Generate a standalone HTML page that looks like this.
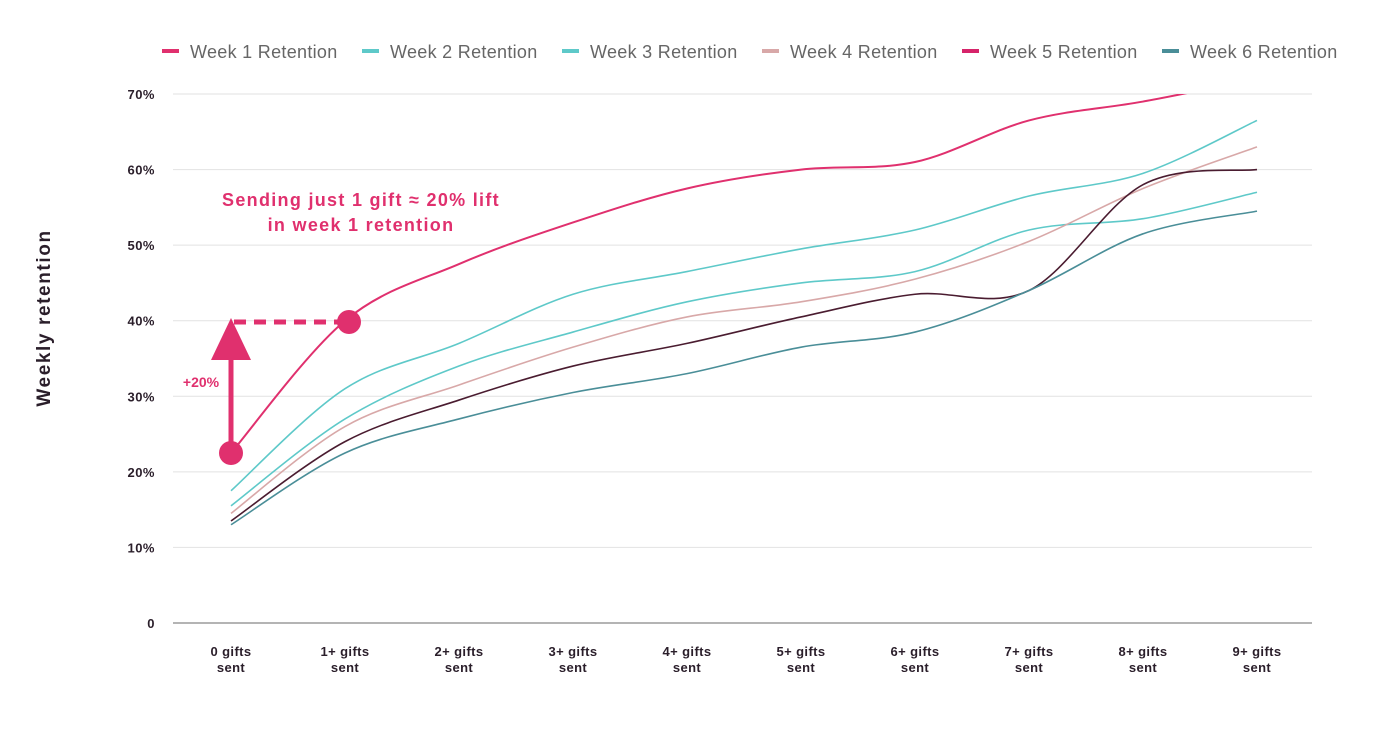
<!DOCTYPE html>
<html><head><meta charset="utf-8"><style>
body{margin:0;background:#fff;width:1400px;height:734px;overflow:hidden;font-family:"Liberation Sans",sans-serif}
</style></head><body>
<svg id="c" width="1400" height="734">
<defs><clipPath id="pc"><rect x="170" y="94" width="1150" height="540"/></clipPath></defs>
<g id="grid"></g><g id="lines" clip-path="url(#pc)"></g><g id="xl"></g><g id="yl"></g><g id="lg"></g>
<text x="50" y="318" transform="rotate(-90 50 318)" text-anchor="middle" font-size="19" font-weight="bold" letter-spacing="1.6" fill="#2a1e2a">Weekly retention</text>
<g>
<text x="361" y="206" text-anchor="middle" font-size="18" font-weight="bold" letter-spacing="1.3" fill="#e0306e">Sending just 1 gift ≈ 20% lift</text>
<text x="361" y="231" text-anchor="middle" font-size="18" font-weight="bold" letter-spacing="1.3" fill="#e0306e">in week 1 retention</text>
<line x1="231" y1="453" x2="231" y2="355" stroke="#e0306e" stroke-width="5"/>
<polygon points="231,318 211,360 251,360" fill="#e0306e"/>
<line x1="234" y1="322" x2="345" y2="322" stroke="#e0306e" stroke-width="5" stroke-dasharray="12,8"/>
<circle cx="231" cy="453" r="12" fill="#e0306e"/>
<circle cx="349" cy="322" r="12" fill="#e0306e"/>
<text x="201" y="387" text-anchor="middle" font-size="14" font-weight="bold" fill="#e0306e">+20%</text>
</g>
</svg>
<script>
const categories=["0 gifts","1+ gifts","2+ gifts","3+ gifts","4+ gifts","5+ gifts","6+ gifts","7+ gifts","8+ gifts","9+ gifts"];
const yTicks=[0,10,20,30,40,50,60,70];
const seriesNames=["Week 1 Retention","Week 2 Retention","Week 3 Retention","Week 4 Retention","Week 5 Retention","Week 6 Retention"];
const week1=[22.5,40,47.5,53,57.5,60,61,66.5,69,72];
const week2=[17.5,31,37,43.5,46.5,49.5,52,56.5,59.5,66.5];
const week3=[15.5,27,34,38.5,42.5,45,46.5,52,53.5,57];
const week4=[14.5,26,31.5,36.5,40.5,42.5,45.5,50.5,57.5,63];
const week5=[13.5,24,29.5,34,37,40.5,43.5,44,58,60];
const week6=[13,22.5,27,30.5,33,36.5,38.5,44,51.5,54.5];
const series=[week1,week2,week3,week4,week5,week6];
const lineColors=["#e0306e","#5ec9c9","#5ec9c9","#d8a8a8","#4a1c30","#4a8e98"];
const legColors=["#e0306e","#5ec9c9","#5ec9c9","#d8a8a8","#d6246a","#4a8e98"];
const NS="http://www.w3.org/2000/svg";
const X=i=>231+i*114, Y=v=>623-v*(529/70);
function mk(t,a,p){const e=document.createElementNS(NS,t);for(const k in a)e.setAttribute(k,a[k]);p.appendChild(e);return e;}
const g=document.getElementById('grid'),yl=document.getElementById('yl'),xl=document.getElementById('xl');
yTicks.forEach(v=>{
 const l=mk('line',{x1:173,x2:1312,y1:Y(v),y2:Y(v),stroke:v==0?'#888':'#e2e2e2','stroke-width':v==0?1.2:1},g);
 
 
 const t=mk('text',{x:155,y:Y(v)+5,'text-anchor':'end','font-size':13,'font-weight':'bold',fill:'#2a1e2a','letter-spacing':0.5},yl);
 t.textContent=v==0?'0':v+'%';
 
 
});
categories.forEach((c,i)=>{
 const t=mk('text',{x:X(i),y:656,'text-anchor':'middle','font-size':13,'font-weight':'bold',fill:'#2a1e2a','letter-spacing':0.4},xl);
 
 
 mk('tspan',{x:X(i)},t).textContent=c;
 mk('tspan',{x:X(i),dy:16},t).textContent='sent';
});
function path(d){const p=d.map((v,i)=>[X(i),Y(v)]);let s='M'+p[0];
 for(let i=0;i<p.length-1;i++){const p0=p[i-1]||p[i],p1=p[i],p2=p[i+1],p3=p[i+2]||p2;
 const c1=[p1[0]+(p2[0]-p0[0])/6,p1[1]+(p2[1]-p0[1])/6],c2=[p2[0]-(p3[0]-p1[0])/6,p2[1]-(p3[1]-p1[1])/6];
 s+='C'+c1+' '+c2+' '+p2;}return s;}
const lg=document.getElementById('lines');
series.forEach((d,k)=>{
 const p=mk('path',{d:path(d),fill:'none',stroke:lineColors[k],'stroke-width':k==0?2:1.6},lg);
 
 
});
const L=document.getElementById('lg');
seriesNames.forEach((n,k)=>{
 const x=162+k*200;
 const gg=mk('g',{},L);
 
 
 mk('line',{x1:x,x2:x+17,y1:51,y2:51,stroke:legColors[k],'stroke-width':4},gg);
 mk('text',{x:x+28,y:58,'font-size':18,fill:'#666','letter-spacing':0.3},gg).textContent=n;
});
</script>
</body></html>
